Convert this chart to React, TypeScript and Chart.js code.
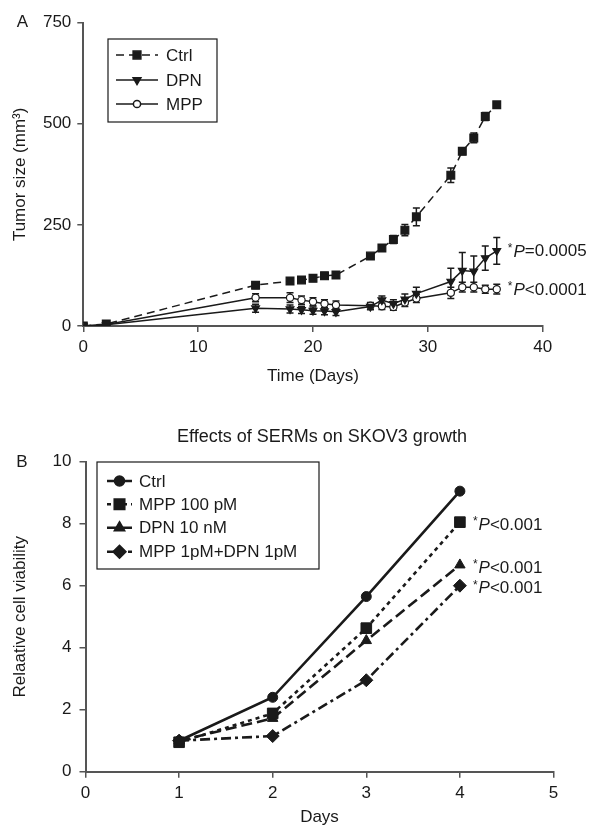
import React, { useEffect, useRef } from "react";
import { Chart, registerables } from "chart.js";
Chart.register(...registerables);

// ---------- data ----------
const daysA = [0, 2, 15, 18, 19, 20, 21, 22, 25, 26, 27, 28, 29, 32, 33, 34, 35, 36];
const ctrlA = [0, 5, 101, 111, 114, 118, 124, 126, 173, 193, 214, 237, 270, 373, 432, 465, 518, 547];
const ctrlErrA = [0, 0, 8, 8, 7, 7, 8, 8, 4, 8, 10, 14, 22, 18, 8, 12, 10, 4];
const dpnA = [0, 3, 44, 42, 40, 38, 37, 35, 48, 64, 55, 66, 80, 110, 137, 135, 168, 186];
const dpnErrA = [0, 0, 10, 10, 9, 9, 9, 9, 8, 10, 10, 13, 16, 33, 45, 38, 30, 33];
const mppA = [0, 4, 70, 70, 64, 60, 55, 52, 50, 49, 47, 58, 68, 82, 96, 96, 91, 91];
const mppErrA = [0, 0, 10, 12, 10, 10, 10, 10, 8, 8, 8, 10, 10, 14, 12, 12, 10, 12];
const seriesNamesA = ["Ctrl", "DPN", "MPP"];
const pLabelsA = ["", "=0.0005", "<0.0001"];
const xTicksA = [0, 10, 20, 30, 40];
const yTicksA = [0, 250, 500, 750];

const daysB = [1, 2, 3, 4];
const ctrlB = [1.0, 2.4, 5.65, 9.05];
const mpp100B = [0.95, 1.88, 4.63, 8.05];
const dpn10B = [1.0, 1.72, 4.23, 6.67];
const comboB = [1.0, 1.15, 2.95, 6.0];
const seriesNamesB = ["Ctrl", "MPP 100 pM", "DPN 10 nM", "MPP 1pM+DPN 1pM"];
const pLabelsB = ["", "<0.001", "<0.001", "<0.001"];
const xTicksB = [0, 1, 2, 3, 4, 5];
const yTicksB = [0, 2, 4, 6, 8, 10];
const titleB = "Effects of SERMs on SKOV3 growth";

// ---------- styling ----------
const FAMILY = '"Liberation Sans", Arial, Helvetica, sans-serif';
const FS = 17;
const INK = "#1a1a1a";
const AXIS = "#555";

type Sty = { dash: number[]; shape: string; r: number; fill: string; rot: number };

function drawMarker(ctx: CanvasRenderingContext2D, s: Sty, x: number, y: number) {
  ctx.save();
  ctx.setLineDash([]);
  ctx.fillStyle = s.fill;
  ctx.strokeStyle = INK;
  ctx.lineWidth = 1.5;
  ctx.beginPath();
  const r = s.r;
  if (s.shape === "rect") {
    const h = r / Math.SQRT2;
    ctx.rect(x - h, y - h, 2 * h, 2 * h);
  } else if (s.shape === "circle") {
    ctx.arc(x, y, r, 0, Math.PI * 2);
  } else if (s.shape === "rectRot") {
    ctx.moveTo(x, y - r);
    ctx.lineTo(x + r, y);
    ctx.lineTo(x, y + r);
    ctx.lineTo(x - r, y);
    ctx.closePath();
  } else if (s.shape === "triangle") {
    const sign = s.rot === 180 ? -1 : 1;
    const side = (3 * r) / Math.sqrt(3);
    const hgt = (side * Math.sqrt(3)) / 2;
    ctx.moveTo(x, y - sign * (2 * hgt) / 3);
    ctx.lineTo(x + side / 2, y + sign * hgt / 3);
    ctx.lineTo(x - side / 2, y + sign * hgt / 3);
    ctx.closePath();
  }
  ctx.fill();
  ctx.stroke();
  ctx.restore();
}

function drawRich(ctx: CanvasRenderingContext2D, x: number, y: number, rest: string, size: number) {
  ctx.save();
  ctx.fillStyle = INK;
  ctx.textBaseline = "middle";
  ctx.textAlign = "left";
  ctx.font = `${Math.round(size * 0.7)}px ${FAMILY}`;
  ctx.fillText("*", x, y - size * 0.18);
  let cx = x + ctx.measureText("*").width + 1;
  ctx.font = `italic ${size}px ${FAMILY}`;
  ctx.fillText("P", cx, y);
  cx += ctx.measureText("P").width;
  ctx.font = `${size}px ${FAMILY}`;
  ctx.fillText(rest, cx, y);
  ctx.restore();
}

function drawLegend(
  ctx: CanvasRenderingContext2D,
  box: { x: number; y: number; w: number; h: number },
  rows: number[],
  lineX: [number, number],
  textX: number,
  names: string[],
  styles: Sty[],
  lw: number
) {
  ctx.save();
  ctx.strokeStyle = INK;
  ctx.lineWidth = 1.2;
  ctx.setLineDash([]);
  ctx.fillStyle = "#fff";
  ctx.fillRect(box.x, box.y, box.w, box.h);
  ctx.strokeRect(box.x, box.y, box.w, box.h);
  names.forEach((n, i) => {
    const s = styles[i];
    const y = rows[i];
    ctx.save();
    ctx.strokeStyle = INK;
    ctx.lineWidth = lw;
    ctx.setLineDash(s.dash);
    ctx.beginPath();
    ctx.moveTo(lineX[0], y);
    ctx.lineTo(lineX[1], y);
    ctx.stroke();
    ctx.restore();
    drawMarker(ctx, s, (lineX[0] + lineX[1]) / 2, y);
    ctx.fillStyle = INK;
    ctx.font = `${FS}px ${FAMILY}`;
    ctx.textBaseline = "middle";
    ctx.textAlign = "left";
    ctx.fillText(n, textX, y + 1);
  });
  ctx.restore();
}

const stylesA: Sty[] = [
  { dash: [8, 5], shape: "rect", r: 5.5, fill: INK, rot: 0 },
  { dash: [], shape: "triangle", r: 4.5, fill: INK, rot: 180 },
  { dash: [], shape: "circle", r: 3.6, fill: "#fff", rot: 0 },
];
const stylesB: Sty[] = [
  { dash: [], shape: "circle", r: 5, fill: INK, rot: 0 },
  { dash: [4, 4], shape: "rect", r: 7.5, fill: INK, rot: 0 },
  { dash: [11, 5], shape: "triangle", r: 6, fill: INK, rot: 0 },
  { dash: [10, 4, 3, 4], shape: "rectRot", r: 6.5, fill: INK, rot: 0 },
];

const axisCommon = (size: number) => ({
  ticks: { color: INK, font: { size, family: FAMILY }, maxRotation: 0, autoSkip: false },
  grid: { display: true, drawOnChartArea: false, drawTicks: true, tickLength: 6, color: AXIS, lineWidth: 1.5 },
  border: { display: true, color: AXIS, width: 2 },
});

export default function App() {
  const refA = useRef<HTMLCanvasElement>(null);
  const refB = useRef<HTMLCanvasElement>(null);

  useEffect(() => {
    document.body.style.margin = "0";
    const ctxA = refA.current!;
    const ctxB = refB.current!;

    const seriesA = [ctrlA, dpnA, mppA];
    const errsA = [ctrlErrA, dpnErrA, mppErrA];

    const pluginA = {
      id: "panelA",
      beforeDatasetsDraw(chart: any) {
        const ctx = chart.ctx as CanvasRenderingContext2D;
        const ys = chart.scales.y;
        ctx.save();
        ctx.strokeStyle = INK;
        ctx.lineWidth = 1.5;
        ctx.setLineDash([]);
        seriesA.forEach((vals, i) => {
          const meta = chart.getDatasetMeta(i);
          vals.forEach((v, j) => {
            const e = errsA[i][j];
            if (!e) return;
            const x = meta.data[j].x;
            const t = ys.getPixelForValue(v + e);
            const b = ys.getPixelForValue(v - e);
            ctx.beginPath();
            ctx.moveTo(x, t);
            ctx.lineTo(x, b);
            ctx.moveTo(x - 3.5, t);
            ctx.lineTo(x + 3.5, t);
            ctx.moveTo(x - 3.5, b);
            ctx.lineTo(x + 3.5, b);
            ctx.stroke();
          });
        });
        ctx.restore();
      },
      afterDraw(chart: any) {
        const ctx = chart.ctx as CanvasRenderingContext2D;
        ctx.save();
        ctx.fillStyle = INK;
        ctx.font = `${FS}px ${FAMILY}`;
        ctx.textBaseline = "middle";
        ctx.textAlign = "center";
        ctx.fillText("A", 22.5, 22.5);
        ctx.restore();
        drawLegend(ctx, { x: 108, y: 39, w: 109, h: 83 }, [55, 80, 104], [116, 158], 166, seriesNamesA, stylesA, 1.5);
        seriesA.forEach((vals, i) => {
          if (!pLabelsA[i]) return;
          const meta = chart.getDatasetMeta(i);
          const last = meta.data[vals.length - 1];
          drawRich(ctx, last.x + 11, last.y + 1, pLabelsA[i], FS);
        });
      },
    };

    const dsA = seriesA.map((vals, i) => ({
      label: seriesNamesA[i],
      data: daysA.map((d, j) => ({ x: d, y: vals[j] })),
      borderColor: INK,
      borderWidth: 1.5,
      borderDash: stylesA[i].dash,
      pointStyle: stylesA[i].shape,
      rotation: stylesA[i].rot,
      pointRadius: stylesA[i].r,
      pointBackgroundColor: stylesA[i].fill,
      pointBorderColor: INK,
      pointBorderWidth: 1.2,
      tension: 0,
    }));

    const chartA = new Chart(ctxA, {
      type: "line",
      data: { datasets: dsA as any },
      options: {
        responsive: false,
        animation: false,
        layout: { padding: { left: 0, right: 52.3, top: 22.7, bottom: 0 } },
        plugins: { legend: { display: false }, tooltip: { enabled: false }, title: { display: false } },
        scales: {
          x: {
            type: "linear",
            min: 0,
            max: 40,
            ...axisCommon(FS),
            ticks: { ...axisCommon(FS).ticks, padding: 5 },
            afterBuildTicks: (s: any) => {
              s.ticks = xTicksA.map((v) => ({ value: v }));
            },
            afterFit: (s: any) => {
              s.height = 69;
            },
            title: { display: true, text: "Time (Days)", color: INK, font: { size: FS, family: FAMILY }, padding: { top: 0, bottom: 8 } },
          },
          y: {
            type: "linear",
            min: 0,
            max: 750,
            ...axisCommon(FS),
            ticks: { ...axisCommon(FS).ticks, padding: 6 },
            afterBuildTicks: (s: any) => {
              s.ticks = yTicksA.map((v) => ({ value: v }));
            },
            afterFit: (s: any) => {
              s.width = 83.3;
            },
            title: { display: true, text: "Tumor size (mm³)", color: INK, font: { size: FS, family: FAMILY }, padding: { top: 10, bottom: 0 } },
          },
        },
      } as any,
      plugins: [pluginA],
    });

    const seriesB = [ctrlB, mpp100B, dpn10B, comboB];
    const pluginB = {
      id: "panelB",
      afterDraw(chart: any) {
        const ctx = chart.ctx as CanvasRenderingContext2D;
        ctx.save();
        ctx.fillStyle = INK;
        ctx.font = `${FS}px ${FAMILY}`;
        ctx.textBaseline = "middle";
        ctx.textAlign = "center";
        ctx.fillText("B", 22, 67.5);
        ctx.font = `18px ${FAMILY}`;
        ctx.fillText(titleB, 322, 42);
        ctx.restore();
        drawLegend(ctx, { x: 97, y: 67, w: 222, h: 107 }, [86, 109.3, 132.7, 156.7], [107, 132], 139, seriesNamesB, stylesB, 2.5);
        seriesB.forEach((vals, i) => {
          if (!pLabelsB[i]) return;
          const meta = chart.getDatasetMeta(i);
          const last = meta.data[vals.length - 1];
          drawRich(ctx, last.x + 13, last.y + 3, pLabelsB[i], FS);
        });
      },
    };

    const dsB = seriesB.map((vals, i) => ({
      label: seriesNamesB[i],
      data: daysB.map((d, j) => ({ x: d, y: vals[j] })),
      borderColor: INK,
      borderWidth: 2.6,
      borderDash: stylesB[i].dash,
      pointStyle: stylesB[i].shape,
      rotation: stylesB[i].rot,
      pointRadius: stylesB[i].r,
      pointBackgroundColor: stylesB[i].fill,
      pointBorderColor: INK,
      pointBorderWidth: 1,
      tension: 0,
    }));

    const chartB = new Chart(ctxB, {
      type: "line",
      data: { datasets: dsB as any },
      options: {
        responsive: false,
        animation: false,
        layout: { padding: { left: 0, right: 595 - 553.5, top: 66.7, bottom: 0 } },
        plugins: { legend: { display: false }, tooltip: { enabled: false }, title: { display: false } },
        scales: {
          x: {
            type: "linear",
            min: 0,
            max: 5,
            ...axisCommon(FS),
            ticks: { ...axisCommon(FS).ticks, padding: 5 },
            afterBuildTicks: (s: any) => {
              s.ticks = xTicksB.map((v) => ({ value: v }));
            },
            afterFit: (s: any) => {
              s.height = 433 - 376.7;
            },
            title: { display: true, text: "Days", color: INK, font: { size: FS, family: FAMILY }, padding: { top: 0, bottom: 0 } },
          },
          y: {
            type: "linear",
            min: 0,
            max: 10,
            ...axisCommon(FS),
            ticks: { ...axisCommon(FS).ticks, padding: 8 },
            afterBuildTicks: (s: any) => {
              s.ticks = yTicksB.map((v) => ({ value: v }));
            },
            afterFit: (s: any) => {
              s.width = 85.5;
            },
            title: { display: true, text: "Relaative cell viability", color: INK, font: { size: FS, family: FAMILY }, padding: { top: 10, bottom: 0 } },
          },
        },
      } as any,
      plugins: [pluginB],
    });

    return () => {
      chartA.destroy();
      chartB.destroy();
    };
  }, []);

  return (
    <div style={{ position: "relative", width: 595, height: 828, background: "#fff" }}>
      <canvas ref={refA} width={595} height={395} style={{ position: "absolute", left: 0, top: 0 }} />
      <canvas ref={refB} width={595} height={433} style={{ position: "absolute", left: 0, top: 395 }} />
    </div>
  );
}
